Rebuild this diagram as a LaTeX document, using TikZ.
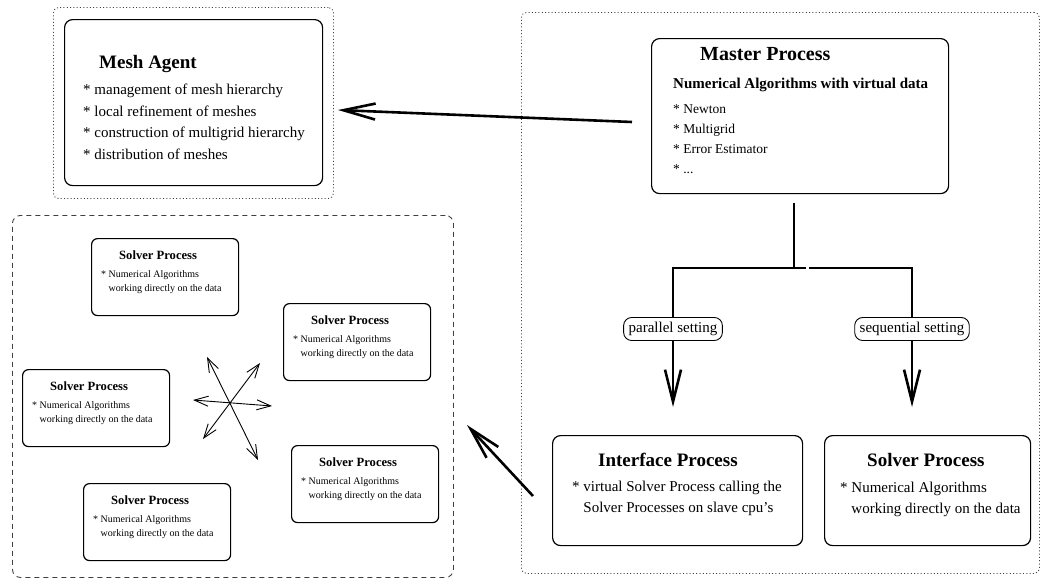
\documentclass[tikz,border=0pt]{standalone}
\usepackage{fontspec}
\setmainfont{Liberation Serif}
\usetikzlibrary{arrows.meta, positioning, calc}

\begin{document}
\begin{tikzpicture}[x=1pt, y=-1pt,
      box/.style={draw=black, line width=1.2pt, rounded corners=8pt,
                  inner sep=0pt, anchor=north west},
      smallbox/.style={box, rounded corners=6pt,
                  minimum width=147pt, minimum height=77pt},
      txt/.style={inner sep=0pt, anchor=north west, align=left},
      bigtitle/.style={txt, font=\fontsize{19}{23}\selectfont\bfseries},
      bigbody/.style={txt, font=\fontsize{15}{21.5}\selectfont},
      smalltitle/.style={txt, font=\fontsize{12.6}{15}\selectfont\bfseries},
      smallbody/.style={txt, font=\fontsize{10}{14.5}\selectfont},
      dotgrp/.style={draw=black!75, line width=0.9pt, dash pattern=on 1pt off 2.3pt,
                  rounded corners=5pt, inner sep=0pt, anchor=north west},
      dashgrp/.style={draw=black!75, line width=0.9pt, dash pattern=on 5pt off 4pt,
                  rounded corners=8pt, inner sep=0pt, anchor=north west},
      tag/.style={draw=black, fill=white, line width=0.9pt, rounded corners=8pt,
                  minimum height=23pt, inner xsep=5pt, inner ysep=0pt,
                  font=\fontsize{15}{18}\selectfont},
      arr/.style={-{Straight Barb[length=32pt, width=16pt]}, line width=2.6pt},
      stem/.style={line width=2.6pt},
      dbl/.style={{Straight Barb[length=14pt, width=10pt]}-{Straight Barb[length=14pt, width=10pt]},
                  line width=0.9pt}
    ]
    \useasboundingbox (0,0) rectangle (1044,579);

    % groups
    \node[dotgrp,  minimum width=280pt, minimum height=191pt] (meshgrp)   at (53,7)   {};
    \node[dotgrp,  minimum width=518pt, minimum height=561pt] (mastergrp) at (521,12) {};
    \node[dashgrp, minimum width=441pt, minimum height=362pt] (solvergrp) at (12,215) {};

    % main boxes
    \node[box, minimum width=258pt, minimum height=166pt] (mesh)   at (64,19)   {};
    \node[box, minimum width=297pt, minimum height=155pt] (master) at (651,38)  {};
    \node[box, minimum width=250pt, minimum height=110pt] (iface)  at (552,435) {};
    \node[box, minimum width=206pt, minimum height=110pt] (solver) at (824,435) {};

    \node[bigtitle] (meshttl) at (99,55) {Mesh Agent};
    \node[bigbody]  (meshtxt) at (83,84) {* management of mesh hierarchy\\* local refinement of meshes\\
      * construction of multigrid hierarchy\\* distribution of meshes};

    \node[bigtitle, font=\fontsize{20}{24}\selectfont\bfseries] (masterttl) at (700,47) {Master Process};
    \node[bigbody,  font=\fontsize{15}{18}\selectfont\bfseries] (mastersub) at (673,78)
      {Numerical Algorithms with virtual data};
    \node[txt, font=\fontsize{13.5}{20}\selectfont] (mastertxt) at (673,104)
      {* Newton\\* Multigrid\\* Error Estimator\\* ...};

    \node[bigtitle] (ifacettl) at (598,453) {Interface Process};
    \node[bigbody, font=\fontsize{15}{21}\selectfont] (ifacetxt) at (572,481)
      {* virtual Solver Process calling the\\\hphantom{* }Solver Processes on slave cpu's};

    \node[bigtitle] (solverttl) at (867,453) {Solver Process};
    \node[bigbody, font=\fontsize{15}{21}\selectfont] (solvertxt) at (840,482)
      {* Numerical Algorithms\\\hphantom{* }working directly on the data};

    % solver processes on the slave cpus
    \node[smallbox] (sp1) at (91,238) {};
    \node[smalltitle] (sp1ttl) at (119,250.4) {Solver Process};
    \node[smallbody]  (sp1txt) at (101,270) {* Numerical Algorithms\\\hphantom{* }working directly on the data};

    \node[smallbox] (sp2) at (283,303) {};
    \node[smalltitle] (sp2ttl) at (311,315.4) {Solver Process};
    \node[smallbody]  (sp2txt) at (293,335) {* Numerical Algorithms\\\hphantom{* }working directly on the data};

    \node[smallbox] (sp3) at (22,369) {};
    \node[smalltitle] (sp3ttl) at (50,381.4) {Solver Process};
    \node[smallbody]  (sp3txt) at (32,401) {* Numerical Algorithms\\\hphantom{* }working directly on the data};

    \node[smallbox] (sp4) at (291,445) {};
    \node[smalltitle] (sp4ttl) at (319,457.4) {Solver Process};
    \node[smallbody]  (sp4txt) at (301,477) {* Numerical Algorithms\\\hphantom{* }working directly on the data};

    \node[smallbox] (sp5) at (83,483) {};
    \node[smalltitle] (sp5ttl) at (111,495.4) {Solver Process};
    \node[smallbody]  (sp5txt) at (93,515) {* Numerical Algorithms\\\hphantom{* }working directly on the data};

    % communication between the slaves
    \coordinate (hub) at (230,403);
    \draw[dbl] ([shift={(-23,-46)}]hub) -- ([shift={(28,57)}]hub);
    \draw[dbl] ([shift={(30,-40)}]hub)  -- ([shift={(-27,36)}]hub);
    \draw[dbl] ([shift={(-37,-3)}]hub)  -- ([shift={(42,3)}]hub);

    % arrows
    \coordinate (masterout) at (632,122);
    \coordinate (meshin)    at (338,110);
    \draw[arr] (masterout) -- (meshin);

    \coordinate (stemtop) at (794,203);
    \coordinate (fork)    at (794,268);
    \coordinate (forkl)   at (806,268);
    \coordinate (forkr)   at (809,268);
    \coordinate (partip)  at (673,407);
    \coordinate (seqtip)  at (912,407);
    \draw[stem] (stemtop) -- (fork);
    \draw[arr] (forkl) -| (partip);
    \draw[arr] (forkr) -| (seqtip);
    \node[tag] (partag) at (673,329) {parallel setting};
    \node[tag] (seqtag) at (912,329) {sequential setting};

    \coordinate (ifaceout) at (533,496);
    \coordinate (slavesin) at (467,425);
    \draw[arr] (ifaceout) -- (slavesin);
  \end{tikzpicture}
\end{document}
